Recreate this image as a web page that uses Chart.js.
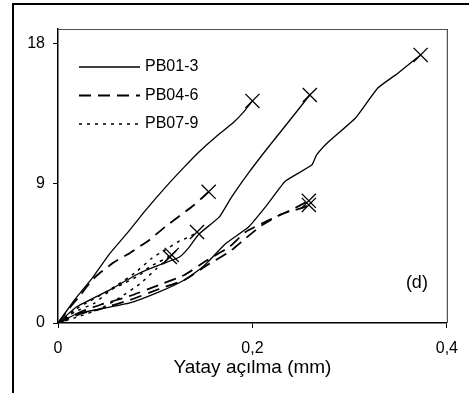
<!DOCTYPE html>
<html>
<head>
<meta charset="utf-8">
<script src="https://cdn.jsdelivr.net/npm/chart.js@4.4.1/dist/chart.umd.min.js"></script>
<style>
  body { margin: 0; background: #fff; }
  #wrap { position: relative; width: 469px; height: 395px; overflow: hidden; }
  #frame { position: absolute; left: 12px; top: 3px; width: 480px; height: 388px;
           border-top: 2px solid #000; border-left: 2px solid #000; }
  canvas { position: absolute; left: 0; top: 0; }
</style>
</head>
<body>
<div id="wrap">
  <div id="frame"></div>
  <canvas id="chart" width="469" height="395"></canvas>
</div>
<script>
// axis ticks
const xTicks = [0, 0.2, 0.4];
const yTicks = [0, 9, 18];
const seriesNames = ['PB01-3', 'PB04-6', 'PB07-9'];

// PB01-3 (solid)
const s1x = [0, 0.017, 0.036, 0.053, 0.072, 0.090, 0.110, 0.130, 0.145, 0.161, 0.181, 0.191, 0.200];
const s1y = [0, 1.48, 2.96, 4.45, 5.85, 7.25, 8.70, 10.05, 11.01, 11.91, 12.94, 13.59, 14.30];
const s2x = [0, 0.019, 0.053, 0.084, 0.107, 0.125, 0.135, 0.145, 0.166, 0.178, 0.196, 0.214, 0.237, 0.259];
const s2y = [0, 1.03, 2.12, 3.22, 3.80, 4.25, 4.89, 5.73, 6.83, 8.05, 9.66, 11.14, 12.94, 14.68];
const s3x = [0, 0.019, 0.043, 0.074, 0.104, 0.130, 0.150, 0.172, 0.196, 0.215, 0.234, 0.261, 0.266, 0.278, 0.306, 0.329, 0.350, 0.373];
const s3y = [0, 0.58, 0.90, 1.29, 2.00, 2.77, 3.67, 5.09, 6.18, 7.60, 9.14, 10.17, 10.82, 11.65, 13.20, 15.13, 16.10, 17.26];

// PB04-6 (dashed)
const s4x = [0, 0.012, 0.023, 0.035, 0.043, 0.058, 0.074, 0.094, 0.110, 0.125, 0.140, 0.155];
const s4y = [0, 0.97, 1.80, 2.77, 3.22, 3.93, 4.51, 5.35, 6.18, 6.89, 7.60, 8.45];
const s5x = [0, 0.023, 0.043, 0.074, 0.104, 0.130, 0.152, 0.176, 0.193, 0.217, 0.240, 0.258];
const s5y = [0, 0.71, 1.16, 1.74, 2.45, 3.09, 3.99, 4.89, 5.86, 6.63, 7.28, 7.87];
const s6x = [0, 0.023, 0.043, 0.074, 0.104, 0.130, 0.152, 0.176, 0.191, 0.210, 0.230, 0.251, 0.258];
const s6y = [0, 0.58, 0.90, 1.48, 2.19, 2.77, 3.67, 4.57, 5.35, 6.31, 7.02, 7.41, 7.60];

// PB07-9 (dotted)
const s7x = [0, 0.017, 0.033, 0.044, 0.061, 0.079, 0.097, 0.110, 0.125, 0.135, 0.143];
const s7y = [0, 0.84, 1.42, 1.80, 2.45, 3.22, 4.19, 4.70, 5.28, 5.54, 5.86];
const s8x = [0, 0.017, 0.038, 0.054, 0.069, 0.084, 0.094, 0.104, 0.117];
const s8y = [0, 0.71, 1.29, 2.12, 2.58, 3.09, 3.61, 3.93, 4.38];
const s9x = [0, 0.023, 0.043, 0.063, 0.084, 0.102, 0.115];
const s9y = [0, 0.45, 0.90, 1.61, 2.51, 3.54, 4.25];

const styles = [
  { dash: [], width: 1.3 },
  { dash: [12, 7], width: 1.8 },
  { dash: [3, 5], width: 1.5 }
];

const curves = [
  [s1x, s1y, 0], [s2x, s2y, 0], [s3x, s3y, 0],
  [s4x, s4y, 1], [s5x, s5y, 1], [s6x, s6y, 1],
  [s7x, s7y, 2], [s8x, s8y, 2], [s9x, s9y, 2]
];

const datasets = curves.map(function (c) {
  const st = styles[c[2]];
  return {
    label: seriesNames[c[2]],
    data: c[0].map(function (x, i) { return { x: x, y: c[1][i] }; }),
    showLine: true,
    borderColor: '#000',
    borderWidth: st.width,
    borderDash: st.dash,
    tension: 0.15,
    pointStyle: 'crossRot',
    pointBorderColor: '#000',
    pointBackgroundColor: '#000',
    pointBorderWidth: 1.3,
    pointRadius: function (ctx) {
      return ctx.dataIndex === ctx.dataset.data.length - 1 ? 10 : 0;
    },
    pointHoverRadius: 0
  };
});

// plot frame, inner legend and the "(d)" tag
const extras = {
  id: 'extras',
  afterDraw: function (chart) {
    const ctx = chart.ctx;
    const a = chart.chartArea;
    ctx.save();
    ctx.strokeStyle = '#505050';
    ctx.lineWidth = 1.2;
    ctx.beginPath();
    ctx.moveTo(a.left, a.top + 0.5);
    ctx.lineTo(a.right + 0.5, a.top + 0.5);
    ctx.lineTo(a.right + 0.5, a.bottom);
    ctx.stroke();

    ctx.fillStyle = '#000';
    ctx.font = '16px "Liberation Sans", Arial, sans-serif';
    ctx.textBaseline = 'middle';
    styles.forEach(function (st, i) {
      const y = a.top + 38 + i * 28.5;
      ctx.strokeStyle = '#000';
      ctx.lineWidth = st.width;
      ctx.setLineDash(st.dash);
      ctx.beginPath();
      ctx.moveTo(a.left + 21, y);
      ctx.lineTo(a.left + 82, y);
      ctx.stroke();
      ctx.setLineDash([]);
      ctx.fillText(seriesNames[i], a.left + 87, y);
    });

    ctx.font = '18px "Liberation Sans", Arial, sans-serif';
    ctx.textAlign = 'right';
    ctx.fillText('(d)', a.right - 19, a.bottom - 40);
    ctx.restore();
  }
};

new Chart(document.getElementById('chart'), {
  type: 'scatter',
  data: { datasets: datasets },
  options: {
    responsive: false,
    animation: false,
    devicePixelRatio: 1,
    layout: { padding: { top: 29, right: 20, left: 0, bottom: 0 } },
    plugins: { legend: { display: false }, tooltip: { enabled: false } },
    scales: {
      x: {
        type: 'linear',
        min: 0,
        max: 0.4,
        afterBuildTicks: function (s) { s.ticks = xTicks.map(function (v) { return { value: v }; }); },
        afterFit: function (s) { s.height = 72; },
        ticks: {
          autoSkip: false,
          maxRotation: 0,
          padding: 11,
          color: '#000',
          font: { family: '"Liberation Sans", Arial, sans-serif', size: 16 },
          callback: function (v) { return String(v).replace('.', ','); }
        },
        grid: { drawOnChartArea: false, tickLength: 5, color: '#000', lineWidth: 1 },
        border: { color: '#000', width: 1.5 },
        title: {
          display: true,
          text: 'Yatay açılma (mm)',
          color: '#000',
          font: { family: '"Liberation Sans", Arial, sans-serif', size: 19 },
          padding: { top: 0, bottom: 15.6 }
        }
      },
      y: {
        type: 'linear',
        min: 0,
        max: 18.93,
        afterBuildTicks: function (s) { s.ticks = yTicks.map(function (v) { return { value: v }; }); },
        afterFit: function (s) { s.width = 58; },
        ticks: {
          padding: 8,
          color: '#000',
          font: { family: '"Liberation Sans", Arial, sans-serif', size: 16 }
        },
        grid: { drawOnChartArea: false, tickLength: 5, color: '#000', lineWidth: 1 },
        border: { color: '#000', width: 1.5 }
      }
    }
  },
  plugins: [extras]
});
</script>
</body>
</html>
